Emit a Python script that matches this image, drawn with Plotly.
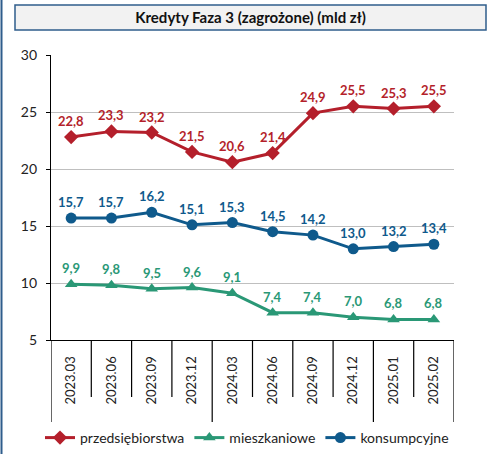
import plotly.graph_objects as go

categories = ["2023.03", "2023.06", "2023.09", "2023.12", "2024.03",
              "2024.06", "2024.09", "2024.12", "2025.01", "2025.02"]
przedsiebiorstwa = [22.8, 23.3, 23.2, 21.5, 20.6, 21.4, 24.9, 25.5, 25.3, 25.5]
mieszkaniowe = [9.9, 9.8, 9.5, 9.6, 9.1, 7.4, 7.4, 7.0, 6.8, 6.8]
konsumpcyjne = [15.7, 15.7, 16.2, 15.1, 15.3, 14.5, 14.2, 13.0, 13.2, 13.4]
group_breaks = [-0.5, 3.5, 7.5, 9.5]  # year-group boundaries (2023 | 2024 | 2025)
y_ticks = [5, 10, 15, 20, 25, 30]

FONT = "Lato"
W, H = 492, 454
L, R, T, B = 51, 38, 55, 114
pw, ph = W - L - R, H - T - B

def px_x(p):
    return (p - L) / pw

def px_y(p):
    return (H - B - p) / ph

def fmt(v):
    return f"{v:.1f}".replace(".", ",")

series = [
    ("przedsiębiorstwa", przedsiebiorstwa, "#B41F2B", "diamond", 11),
    ("mieszkaniowe", mieszkaniowe, "#2A9876", "triangle-up", 11),
    ("konsumpcyjne", konsumpcyjne, "#0F5A8C", "circle", 11),
]

fig = go.Figure()
annotations = []
for name, vals, col, sym, ms in series:
    fig.add_trace(go.Scatter(
        x=categories, y=vals, name=name, mode="lines+markers",
        line=dict(color=col, width=3),
        marker=dict(symbol=sym, size=ms, color=col),
        cliponaxis=False,
    ))
    for i, v in enumerate(vals):
        annotations.append(dict(x=i, y=v, xref="x", yref="y", text="<b>" + fmt(v) + "</b>",
                                showarrow=False, yshift=16, yanchor="middle",
                                font=dict(family=FONT, size=13, color=col)))

shapes = []
n = len(categories)
for i in range(n + 1):
    xb = i - 0.5
    long = xb in group_breaks
    shapes.append(dict(type="line", xref="x", yref="paper", x0=xb, x1=xb,
                       y0=0, y1=px_y(424) if long else px_y(397),
                       line=dict(color="black", width=1.2)))
# title box
shapes.append(dict(type="rect", xref="paper", yref="paper",
                   x0=px_x(15), x1=px_x(486), y0=px_y(30), y1=px_y(5),
                   fillcolor="#F2F2F2", line=dict(color="#2F5D8C", width=1.5), layer="below"))
# left border line
shapes.append(dict(type="line", xref="paper", yref="paper",
                   x0=px_x(1.5), x1=px_x(1.5), y0=px_y(H), y1=px_y(0),
                   line=dict(color="#2F5D8C", width=2)))

fig.update_layout(
    width=W, height=H,
    margin=dict(l=L, r=R, t=T, b=B, autoexpand=False),
    paper_bgcolor="white", plot_bgcolor="white",
    font=dict(family=FONT, size=13, color="#222222"),
    showlegend=True,
    legend=dict(orientation="h", x=px_x(40), y=px_y(438), xanchor="left", yanchor="middle",
                font=dict(family=FONT, size=14, color="#222222"), itemwidth=30,
                tracegroupgap=0),
    title=dict(text="<b>Kredyty Faza 3 (zagrożone) (mld zł)</b>",
               x=px_x(250.5), xref="paper", xanchor="center",
               y=1 - 17.5 / H, yref="container", yanchor="middle",
               font=dict(family=FONT, size=15, color="#111111")),
    shapes=shapes,
    annotations=annotations,
    xaxis=dict(type="category", categoryorder="array", categoryarray=categories,
               range=[-0.5, n - 0.5], showgrid=False, showline=True, automargin=False,
               linecolor="black", linewidth=1.2, ticks="", tickangle=-90,
               ticklabelstandoff=10,
               tickfont=dict(family=FONT, size=13, color="#222222")),
    yaxis=dict(range=[5, 30], tickvals=y_ticks, showgrid=True, gridcolor="#BFBFBF",
               gridwidth=1, showline=True, linecolor="black", linewidth=1.2,
               ticks="outside", ticklen=4, tickcolor="black", zeroline=False,
               ticklabelstandoff=6, automargin=False,
               tickfont=dict(family=FONT, size=14, color="#222222")),
)

fig.write_html("out.html", config={"displayModeBar": False},
               post_script="document.body.style.margin='0';")
